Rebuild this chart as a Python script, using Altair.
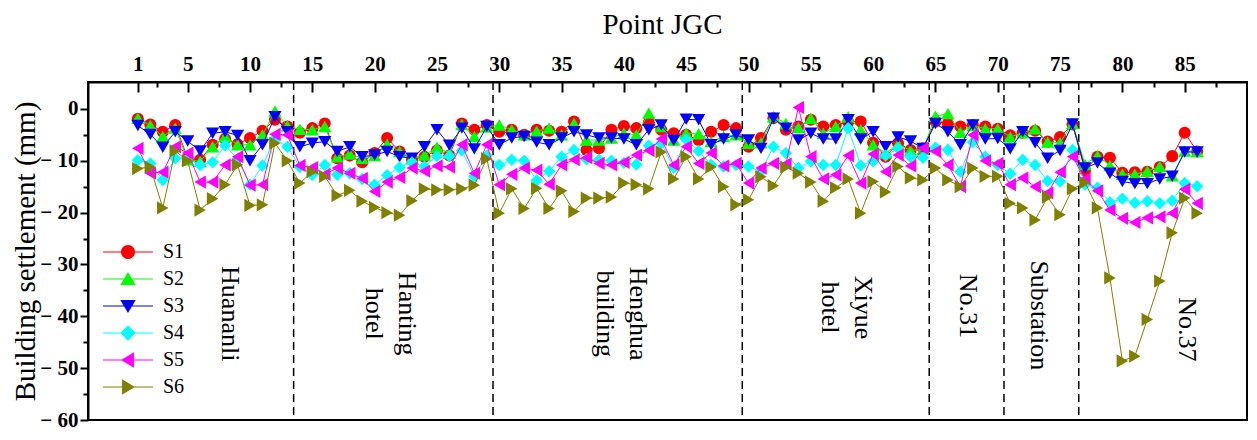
import altair as alt
import pandas as pd

# ---------------- data ----------------
points = list(range(1, 87))

S1 = [-1.9, -3.0, -4.4, -3.1, -9.5, -9.8, -6.9, -5.8, -6.8, -5.6,
      -4.2, -2.1, -3.4, -4.6, -3.7, -2.8, -9.5, -9.0, -10.3, -8.5,
      -5.6, -8.2, -9.8, -9.2, -8.0, -9.0, -2.8, -4.0, -3.1, -4.4,
      -4.0, -5.0, -4.0, -4.2, -4.4, -2.4, -7.9, -7.6, -4.0, -3.3,
      -3.7, -2.6, -4.0, -4.7, -5.0, -6.0, -4.4, -3.1, -3.7, -7.3,
      -5.6, -1.8, -4.0, -3.4, -2.1, -3.4, -3.1, -2.5, -2.4, -6.5,
      -9.2, -6.6, -7.9, -7.6, -2.4, -2.8, -3.4, -3.1, -3.4, -3.8,
      -5.1, -4.6, -4.2, -6.3, -5.4, -3.0, -11.8, -9.2, -9.4, -12.3,
      -12.2, -12.1, -11.2, -9.1, -4.6, -8.2]

S2 = [-1.8, -3.2, -5.3, -3.7, -9.8, -10.1, -7.3, -5.3, -6.9, -6.9,
      -5.0, -0.4, -3.3, -3.9, -4.0, -3.4, -9.2, -8.7, -9.5, -9.0,
      -6.8, -8.2, -9.5, -8.9, -7.4, -8.5, -3.0, -5.3, -3.5, -3.1,
      -4.0, -5.0, -4.3, -3.7, -5.0, -2.8, -6.0, -6.0, -5.6, -4.7,
      -5.0, -0.8, -3.4, -6.0, -4.7, -4.8, -6.3, -5.3, -5.0, -6.6,
      -6.5, -1.5, -2.8, -3.6, -1.8, -4.7, -3.4, -1.5, -4.0, -6.9,
      -8.5, -6.8, -8.0, -7.8, -1.4, -0.9, -4.5, -3.2, -3.8, -3.8,
      -5.4, -4.6, -3.8, -6.4, -6.5, -2.8, -10.7, -9.0, -10.9, -12.6,
      -12.6, -12.0, -11.1, -12.9, -8.1, -8.2]

S3 = [-3.2, -4.9, -7.4, -4.4, -6.2, -8.1, -4.7, -4.4, -5.1, -10.0,
      -6.9, -1.5, -4.4, -7.3, -6.6, -6.3, -8.2, -7.3, -9.2, -8.9,
      -8.2, -9.2, -9.5, -7.3, -4.0, -7.0, -3.7, -7.7, -3.4, -6.9,
      -5.6, -5.3, -6.4, -6.9, -5.6, -4.4, -5.0, -5.6, -5.6, -5.8,
      -6.9, -4.0, -3.1, -6.1, -2.0, -2.1, -6.9, -5.8, -5.0, -6.0,
      -7.6, -1.8, -3.7, -6.0, -4.7, -5.8, -5.8, -2.1, -5.8, -4.4,
      -7.3, -5.4, -6.2, -7.6, -2.8, -4.4, -6.9, -3.1, -5.8, -5.7,
      -7.7, -4.4, -6.5, -9.5, -8.0, -2.9, -11.4, -10.4, -12.4, -14.0,
      -14.4, -14.4, -13.5, -13.0, -8.3, -8.3]

S4 = [-9.9, -10.5, -13.7, -9.5, -9.5, -10.8, -10.3, -7.0, -9.7, -14.6,
      -10.9, -5.8, -7.3, -11.2, -12.7, -10.8, -12.7, -12.4, -13.5, -14.6,
      -12.8, -11.3, -10.3, -11.1, -9.1, -9.1, -8.0, -13.0, -9.0, -10.8,
      -9.8, -10.0, -13.8, -12.0, -9.2, -7.9, -9.7, -9.8, -10.0, -10.4,
      -10.7, -7.1, -6.6, -11.3, -5.9, -8.1, -10.8, -11.1, -10.8, -11.1,
      -12.1, -7.3, -8.5, -11.4, -10.1, -10.8, -10.8, -3.7, -10.9, -10.1,
      -9.0, -7.6, -9.2, -9.4, -7.5, -7.9, -12.1, -6.4, -9.2, -10.8,
      -12.5, -9.8, -10.8, -13.9, -14.0, -7.9, -14.6, -15.2, -18.0, -17.3,
      -18.1, -17.8, -18.2, -17.7, -14.3, -14.9]

S5 = [-7.6, -12.4, -12.2, -7.3, -8.5, -14.1, -14.1, -10.8, -9.2, -14.7,
      -14.6, -4.9, -5.0, -10.9, -11.3, -12.6, -11.4, -12.4, -13.4, -15.9,
      -14.1, -13.2, -11.4, -12.0, -11.0, -11.2, -6.9, -12.4, -6.9, -14.6,
      -12.6, -11.4, -11.8, -14.5, -10.8, -9.8, -9.4, -10.5, -10.8, -10.3,
      -8.9, -8.0, -5.8, -10.8, -7.3, -10.5, -8.5, -11.0, -10.5, -14.3,
      -11.4, -10.5, -10.6, 0.3, -9.2, -13.5, -12.7, -9.0, -14.3, -8.7,
      -12.1, -8.9, -11.0, -7.6, -8.2, -10.8, -15.0, -5.0, -10.0, -10.5,
      -14.6, -13.3, -15.0, -16.2, -12.2, -9.2, -13.5, -15.8, -19.5, -21.1,
      -21.9, -21.0, -20.8, -20.1, -15.5, -18.2]

S6 = [-11.5, -11.2, -19.1, -8.1, -10.0, -19.5, -17.3, -14.6, -10.8, -18.6,
      -18.5, -6.6, -10.0, -14.3, -12.1, -13.0, -16.7, -15.7, -17.8, -19.0,
      -20.0, -20.5, -17.7, -15.4, -15.6, -15.6, -15.4, -14.7, -9.6, -20.1,
      -15.4, -19.2, -15.3, -19.2, -15.8, -19.8, -17.2, -17.2, -17.0, -14.3,
      -14.6, -15.4, -8.3, -13.5, -9.2, -13.5, -11.2, -15.0, -18.5, -17.5,
      -13.1, -14.8, -11.2, -12.4, -14.1, -17.8, -15.2, -13.5, -20.1, -14.0,
      -16.0, -11.1, -13.3, -13.7, -11.4, -13.7, -15.0, -11.4, -13.0, -13.0,
      -18.2, -19.1, -21.4, -17.0, -20.4, -15.4, -14.2, -19.1, -32.6, -48.6,
      -47.7, -40.6, -33.2, -23.9, -17.2, -20.1]

series_names = ["S1", "S2", "S3", "S4", "S5", "S6"]
series_values = [S1, S2, S3, S4, S5, S6]
series_colors = ["#FF0000", "#00FF00", "#0000FF", "#00FFFF", "#FF00FF", "#808000"]
series_shapes = ["circle", "triangle-up", "triangle-down", "diamond",
                 "triangle-left", "triangle-right"]
marker_sizes = [145, 175, 175, 155, 175, 175]

# legend glyphs: line segment + marker, unit box coordinates
LEG_LINE = "M-3.57,-0.08H3.57V0.08H-3.57Z "
legend_paths = [
    LEG_LINE + "M1,0A1,1,0,1,1,-1,0A1,1,0,1,1,1,0Z",
    LEG_LINE + "M0,-1L1.1,0.85L-1.1,0.85Z",
    LEG_LINE + "M0,1L-1.1,-0.85L1.1,-0.85Z",
    LEG_LINE + "M0,-1.1L1.1,0L0,1.1L-1.1,0Z",
    LEG_LINE + "M-1,0L0.85,-1.1L0.85,1.1Z",
    LEG_LINE + "M1,0L-0.85,1.1L-0.85,-1.1Z",
]

divider_x = [13.5, 29.5, 49.5, 64.5, 70.5, 76.5]

building_names = ["Huananli", "Hanting\nhotel", "Henghua\nbuilding", "Xiyue\nhotel",
                  "No.31", "Substation", "No.37"]
building_x = [8.4, 22.6, 41.1, 59.2, 67.6, 73.3, 85.2]
building_y = [-39.5, -39.5, -39.5, -38.3, -38.0, -39.8, -42.5]

x_major = [1] + list(range(5, 90, 5))
x_minor = [2.5 + 5 * i for i in range(18)]
y_major = [0, -10, -20, -30, -40, -50, -60]
y_minor = [-5, -15, -25, -35, -45, -55]

W, H = 1159, 338
FONT = "Liberation Serif"

rows = []
for name, vals in zip(series_names, series_values):
    for p, v in zip(points, vals):
        rows.append({"point": p, "value": v, "series": name})
df = pd.DataFrame(rows)

div_df = pd.DataFrame({"x": divider_x})
lab_df = pd.DataFrame({"x": building_x, "y": building_y, "text": building_names})

xs = alt.Scale(domain=[-3, 90], nice=False, zero=False)
ys = alt.Scale(domain=[-60, 5.2], nice=False, zero=False)


def X(axis=None, field="point:Q"):
    if axis is None:
        return alt.X(field, scale=xs, axis=None)
    return alt.X(field, scale=xs, axis=axis, title=None)


def Y(axis=None, field="value:Q"):
    if axis is None:
        return alt.Y(field, scale=ys, axis=None)
    return alt.Y(field, scale=ys, axis=axis, title=None)


# ---------------- axes ----------------
axis_main = alt.Chart(df).mark_point(opacity=0).encode(
    x=alt.X("point:Q", scale=xs, axis=alt.Axis(
        orient="top", values=x_major, format="d", ticks=False, tickSize=0,
        labelFont=FONT, labelFontSize=21, labelFontWeight="bold", labelColor="black",
        labelPadding=8, labelOverlap=False, labelFlush=False,
        domainColor="black", domainWidth=2, grid=False,
        title="Point JGC", titleFont=FONT, titleFontSize=29, titleFontWeight="normal",
        titleColor="black", titleX=574, titleY=-49, titleBaseline="alphabetic",
        titleAlign="center")),
    y=alt.Y("value:Q", scale=ys, axis=alt.Axis(
        orient="left", values=y_major, format="d",
        labelExpr="datum.value < 0 ? '\u2212 ' + format(-datum.value, 'd') : '0'",
        tickSize=8, tickWidth=2,
        tickColor="black", labelFont=FONT, labelFontSize=21, labelFontWeight="bold",
        labelColor="black", labelPadding=2, labelOverlap=False, labelFlush=False,
        domainColor="black", domainWidth=2, grid=False,
        title="Building settlement (mm)", titleFont=FONT, titleFontSize=29,
        titleFontWeight="normal", titleColor="black", titleX=-63, titleY=169,
        titleAngle=270, titleBaseline="middle", titleAlign="center")),
)

axis_ticks_a = alt.Chart(df).mark_point(opacity=0).encode(
    x=X(alt.Axis(orient="bottom", offset=-H, values=x_major, tickSize=10, tickWidth=2,
                 tickColor="black", labels=False, domain=False, grid=False)),
    y=Y(alt.Axis(orient="left", values=y_minor, tickSize=5, tickWidth=2,
                 tickColor="black", labels=False, domain=False, grid=False)),
)

axis_ticks_b = alt.Chart(df).mark_point(opacity=0).encode(
    x=X(alt.Axis(orient="bottom", offset=-H, values=x_minor, tickSize=5, tickWidth=2,
                 tickColor="black", labels=False, domain=False, grid=False)),
    y=Y(None),
)

# ---------------- marks ----------------
rules = alt.Chart(div_df).mark_rule(color="black", strokeWidth=1.5, strokeDash=[8, 5]).encode(
    x=X(None, "x:Q"))

series_layers = []
for name, col, shp, sz in zip(series_names, series_colors, series_shapes, marker_sizes):
    base = alt.Chart(df).transform_filter(alt.datum.series == name)
    series_layers.append(base.mark_line(color=col, strokeWidth=1, opacity=1).encode(x=X(), y=Y()))
    series_layers.append(base.mark_point(filled=True, shape=shp, size=sz, color=col,
                                         opacity=1, strokeWidth=0).encode(x=X(), y=Y()))

labels = alt.Chart(lab_df).mark_text(
    angle=90, font=FONT, fontSize=26, lineBreak="\n", lineHeight=33,
    align="center", baseline="middle", color="black"
).encode(x=X(None, "x:Q"), y=Y(None, "y:Q"), text="text:N")

legend_cfg = dict(orient="none", legendX=30, legendY=160, title=None, symbolSize=196,
                  symbolStrokeWidth=0, symbolOpacity=1, labelFont=FONT, labelFontSize=20,
                  labelColor="black", labelOffset=25, rowPadding=7, padding=0)

legend_layer = alt.Chart(df).transform_filter("false").mark_point(filled=True, opacity=1).encode(
    x=X(), y=Y(),
    color=alt.Color("series:N", scale=alt.Scale(domain=series_names, range=series_colors),
                    legend=alt.Legend(**legend_cfg)),
    shape=alt.Shape("series:N", scale=alt.Scale(domain=series_names, range=legend_paths),
                    legend=alt.Legend(**legend_cfg)),
)

chart = alt.layer(
    axis_main, axis_ticks_a, axis_ticks_b, rules, *series_layers, labels, legend_layer
).resolve_axis(x="independent", y="independent").properties(
    width=W, height=H,
    autosize=alt.AutoSizeParams(type="none"),
    padding={"left": 80, "top": 74, "right": 2, "bottom": 12},
    background="white",
).configure_view(stroke="black", strokeWidth=2)

chart.save("out.html", embed_options={"renderer": "svg", "actions": False})
